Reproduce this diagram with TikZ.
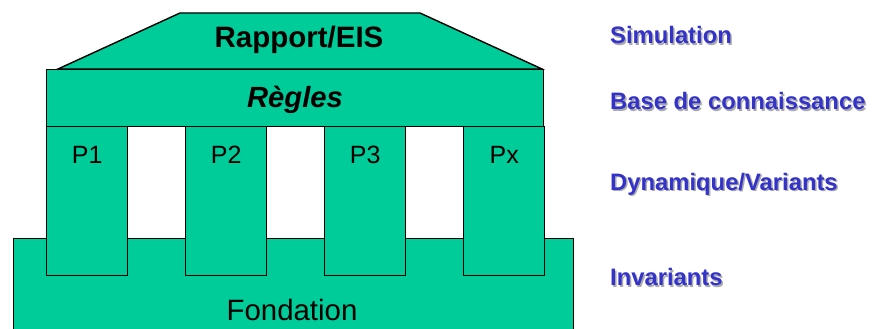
\documentclass[tikz,border=0pt]{standalone}
\usepackage{fontspec}
\setmainfont{Liberation Sans}
\definecolor{temple}{RGB}{0,204,153}
\definecolor{lblue}{RGB}{51,51,204}
\definecolor{shad}{RGB}{170,170,170}
\tikzset{
  part/.style={draw=black, line width=1.4pt, fill=temple, inner sep=0pt, rectangle},
  big/.style={font=\fontsize{29.5}{33}\selectfont\bfseries, inner sep=0pt},
  colname/.style={font=\fontsize{25}{29}\selectfont, inner sep=0pt},
  side/.style={font=\fontsize{23.8}{27}\selectfont\bfseries, text=lblue, anchor=west, inner sep=0pt},
  sideshadow/.style={font=\fontsize{23.8}{27}\selectfont\bfseries, text=shad, anchor=west, inner sep=0pt}
}
\begin{document}
\begin{tikzpicture}[x=1pt,y=-1pt]
\useasboundingbox (0,0) rectangle (881,329);
% foundation
\node[part, anchor=north west, minimum width=560, minimum height=110] (fond) at (13,238) {};
\node[font=\fontsize{29.4}{33}\selectfont, inner sep=0pt] (fondlbl) at (292,310) {Fondation};
% columns
\foreach \n/\x/\t in {p1/46/P1, p2/185/P2, p3/324/P3, px/463/Px}{
  \node[part, anchor=north west, minimum width=81, minimum height=149] (\n) at (\x,126) {};
  \node[colname] (\n lbl) at ([yshift=-29pt]\n.north) {\t};
}
% architrave
\node[part, anchor=north west, minimum width=497, minimum height=57] (regles) at (46,69) {};
\node[big, font=\fontsize{29.2}{33}\selectfont\bfseries\itshape] (regleslbl) at (295,100) {Règles};
% roof
\coordinate (rbl) at (58,69);
\coordinate (rbr) at (542,69);
\coordinate (rtl) at (180,13);
\coordinate (rtr) at (420,13);
\draw[line width=1.4pt, fill=temple, line join=miter] (rbl) -- (rtl) -- (rtr) -- (rbr) -- cycle;
\node[big] (roof) at (299,40) {Rapport/EIS};
% side labels
\foreach \n/\y/\t in {s1/35/{Simulation}, s2/101/{Base de connaissance}, s3/184/{Dynamique/Variants}, s4/277/{Invariants}}{
  \node[sideshadow] (\n sh) at (611.5,\y+1.5) {\t};
  \node[side] (\n) at (610,\y) {\t};
}
\end{tikzpicture}
\end{document}
